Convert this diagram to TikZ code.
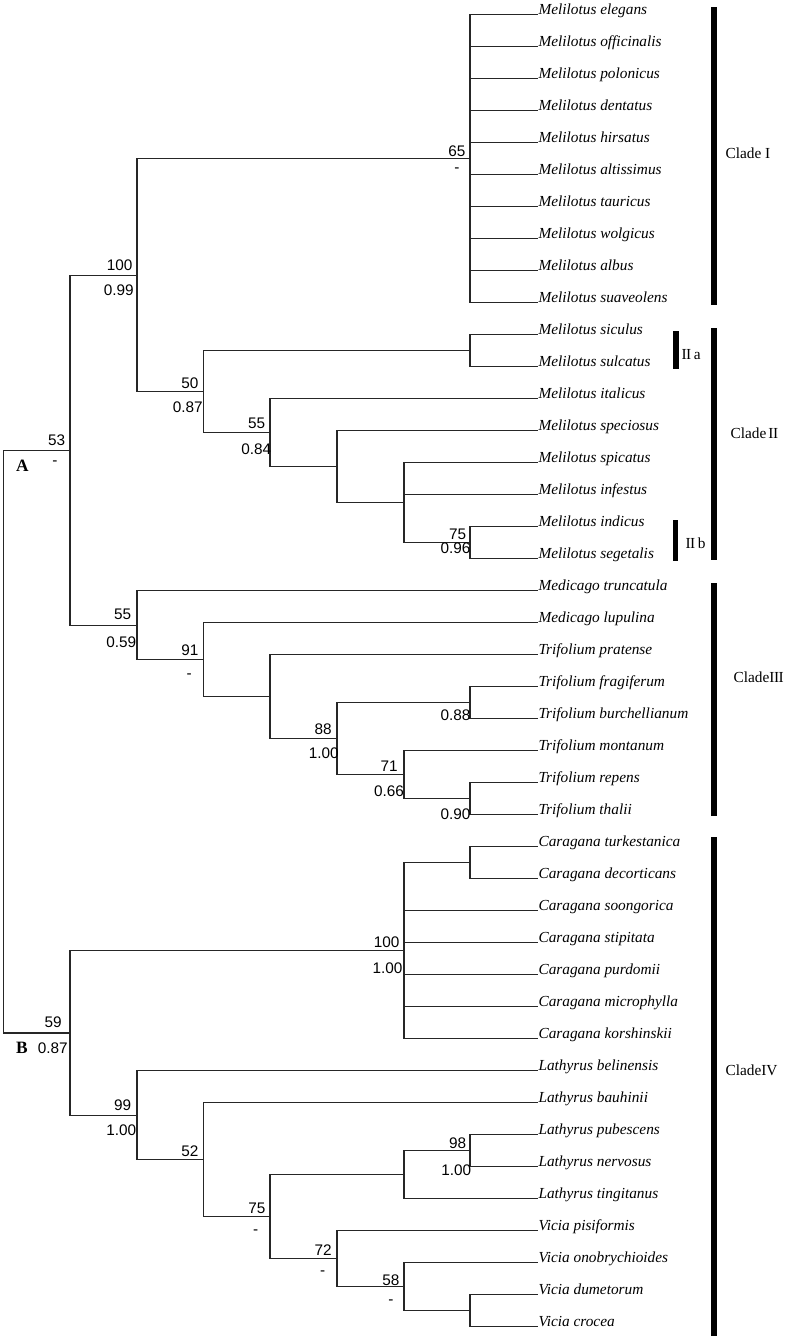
\documentclass[tikz,border=0pt]{standalone}
\usepackage{fontspec}
\setmainfont{Liberation Serif}
\newfontfamily\arialfont{Liberation Sans}
\begin{document}
\begin{tikzpicture}[x=0.75pt, y=-0.75pt, line width=0.8pt, draw=black!85,
    leaf/.style={anchor=base west, inner sep=0pt, font=\fontsize{11.5}{13}\selectfont\itshape},
    boot/.style={anchor=east, inner sep=0pt, font=\arialfont\fontsize{11.5}{13}\selectfont},
    nil/.style={anchor=base, inner sep=0pt, font=\arialfont\fontsize{11.5}{13}\selectfont},
    clade/.style={anchor=west, inner sep=0pt, font=\fontsize{11.5}{13}\selectfont},
    grp/.style={inner sep=0pt, font=\bfseries\fontsize{13}{15}\selectfont}]
    \useasboundingbox (0,0) rectangle (787,1339);

    % Leaves
    \foreach \sp [count=\i from 0] in {Melilotus elegans, Melilotus officinalis,
        Melilotus polonicus, Melilotus dentatus, Melilotus hirsatus,
        Melilotus altissimus, Melilotus tauricus, Melilotus wolgicus,
        Melilotus albus, Melilotus suaveolens, Melilotus siculus,
        Melilotus sulcatus, Melilotus italicus, Melilotus speciosus,
        Melilotus spicatus, Melilotus infestus, Melilotus indicus,
        Melilotus segetalis, Medicago truncatula, Medicago lupulina,
        Trifolium pratense, Trifolium fragiferum, Trifolium burchellianum,
        Trifolium montanum, Trifolium repens, Trifolium thalii,
        Caragana turkestanica, Caragana decorticans, Caragana soongorica,
        Caragana stipitata, Caragana purdomii, Caragana microphylla,
        Caragana korshinskii, Lathyrus belinensis, Lathyrus bauhinii,
        Lathyrus pubescens, Lathyrus nervosus, Lathyrus tingitanus,
        Vicia pisiformis, Vicia onobrychioides, Vicia dumetorum, Vicia crocea}
        \node[leaf] (l\i) at (538, 14.7+32*\i) {\sp};

    % Clade I
    \coordinate (cI) at (470,158.7);
    \foreach \k in {0,...,9} \draw (cI) |- (l\k.base west);
    \node[boot] (b65) at (466,151) {65};
    \node[nil] (p65) at (457,172) {-};

    % Clade II
    \coordinate (IIa) at (470,350.7);
    \coordinate (IIb) at (470,542.7);
    \coordinate (n404a) at (404,502.7);
    \coordinate (n337a) at (337,466.7);
    \coordinate (n270a) at (270,432.7);
    \coordinate (n203a) at (203.5,391.7);
    \draw (IIa) |- (l10.base west);
    \draw (IIa) |- (l11.base west);
    \draw (IIb) |- (l16.base west);
    \draw (IIb) |- (l17.base west);
    \draw (n404a) |- (l14.base west);
    \draw (n404a) |- (l15.base west);
    \draw (n404a) |- (IIb);
    \draw (n337a) |- (l13.base west);
    \draw (n337a) |- (n404a);
    \draw (n270a) |- (l12.base west);
    \draw (n270a) |- (n337a);
    \draw (n203a) |- (IIa);
    \draw (n203a) |- (n270a);
    \node[boot] (b75) at (466.7,534) {75};
    \node[boot] (p75) at (471,548.3) {0.96};
    \node[boot] (b55a) at (265.7,423.3) {55};
    \node[boot] (p55a) at (271.7,449.3) {0.84};
    \node[boot] (b50) at (199,383.3) {50};
    \node[boot] (p50) at (203.3,407.7) {0.87};

    % Clade I + II
    \coordinate (n137a) at (137,275.2);
    \draw (n137a) |- (cI);
    \draw (n137a) |- (n203a);
    \node[boot] (b100a) at (133,265) {100};
    \node[boot] (p100a) at (134.3,290) {0.99};

    % Clade III
    \coordinate (tf) at (470,702.7);
    \coordinate (tr) at (470,798.7);
    \coordinate (n404b) at (404,774.7);
    \coordinate (n337b) at (337,738.7);
    \coordinate (n270b) at (270,696.7);
    \coordinate (n203b) at (203.5,659.7);
    \coordinate (n137b) at (137,625.2);
    \draw (tf) |- (l21.base west);
    \draw (tf) |- (l22.base west);
    \draw (tr) |- (l24.base west);
    \draw (tr) |- (l25.base west);
    \draw (n404b) |- (l23.base west);
    \draw (n404b) |- (tr);
    \draw (n337b) |- (tf);
    \draw (n337b) |- (n404b);
    \draw (n270b) |- (l20.base west);
    \draw (n270b) |- (n337b);
    \draw (n203b) |- (l19.base west);
    \draw (n203b) |- (n270b);
    \draw (n137b) |- (l18.base west);
    \draw (n137b) |- (n203b);
    \node[boot] (ptf) at (471,715) {0.88};
    \node[boot] (ptr) at (471,814) {0.90};
    \node[boot] (b71) at (398.3,766) {71};
    \node[boot] (p71) at (404.5,791) {0.66};
    \node[boot] (b88) at (332.3,729) {88};
    \node[boot] (p88) at (339.3,753.3) {1.00};
    \node[boot] (b91) at (199,650) {91};
    \node[nil] (p91) at (189.3,678) {-};
    \node[boot] (b55b) at (131.7,614) {55};
    \node[boot] (p55b) at (136.7,642.3) {0.59};

    % A
    \coordinate (nA) at (70,450.2);
    \draw (nA) |- (n137a);
    \draw (nA) |- (n137b);
    \node[boot] (b53) at (65.7,440) {53};
    \node[nil] (p53) at (55,465.7) {-};
    \node[grp] (gA) at (22.5,465.7) {A};

    % Clade IV, Caragana
    \coordinate (ct) at (470,862.7);
    \coordinate (car) at (404,950.7);
    \draw (ct) |- (l26.base west);
    \draw (ct) |- (l27.base west);
    \draw (car) |- (ct);
    \foreach \k in {28,...,32} \draw (car) |- (l\k.base west);
    \node[boot] (b100b) at (400,942.7) {100};
    \node[boot] (p100b) at (403,968.3) {1.00};

    % Clade IV, Lathyrus and Vicia
    \coordinate (lp) at (470,1150.7);
    \coordinate (lat) at (404,1174.7);
    \coordinate (vd) at (470,1310.7);
    \coordinate (v58) at (404,1286.7);
    \coordinate (v72) at (337,1258.7);
    \coordinate (n75) at (270,1216.7);
    \coordinate (n52) at (203.5,1159.7);
    \coordinate (n99) at (137,1115.2);
    \draw (lp) |- (l35.base west);
    \draw (lp) |- (l36.base west);
    \draw (lat) |- (lp);
    \draw (lat) |- (l37.base west);
    \draw (vd) |- (l40.base west);
    \draw (vd) |- (l41.base west);
    \draw (v58) |- (l39.base west);
    \draw (v58) |- (vd);
    \draw (v72) |- (l38.base west);
    \draw (v72) |- (v58);
    \draw (n75) |- (lat);
    \draw (n75) |- (v72);
    \draw (n52) |- (l34.base west);
    \draw (n52) |- (n75);
    \draw (n99) |- (l33.base west);
    \draw (n99) |- (n52);
    \node[boot] (b98) at (466.7,1143.3) {98};
    \node[boot] (p98) at (471.7,1170) {1.00};
    \node[boot] (b58) at (400,1280) {58};
    \node[nil] (p58) at (391,1304) {-};
    \node[boot] (b72) at (332.3,1250) {72};
    \node[nil] (p72) at (322.7,1275.7) {-};
    \node[boot] (b75b) at (266,1208.3) {75};
    \node[nil] (p75b) at (255.7,1234) {-};
    \node[boot] (b52) at (199,1151.7) {52};
    \node[boot] (b99) at (131.7,1105) {99};
    \node[boot] (p99) at (136.7,1130.7) {1.00};

    % B
    \coordinate (nB) at (70,1033);
    \draw (nB) |- (car);
    \draw (nB) |- (n99);
    \node[boot] (b59) at (62.3,1022.7) {59};
    \node[boot] (p59) at (68.3,1048.3) {0.87};
    \node[grp] (gB) at (22,1047.7) {B};

    % Root
    \coordinate (root) at (3.3,741.6);
    \draw (root) |- (nA);
    \draw (root) |- (nB);

    % Clade bars
    \fill (710.7,6.7) rectangle (716.7,305);
    \fill (710.7,327.7) rectangle (716.7,560);
    \fill (710.7,583.3) rectangle (716.7,816);
    \fill (711.2,837.3) rectangle (717.2,1335.7);
    \fill (673.3,330.7) rectangle (679.3,369.3);
    \fill (672.7,520) rectangle (678.3,561);
    \node[clade] (cl1) at (725,153) {Clade I};
    \node[clade] (cl2) at (730,433) {Clade\kern1.5pt I\kern-0.3pt I};
    \node[clade] (cl3) at (733,677) {CladeI\kern-0.3pt I\kern-0.3pt I};
    \node[clade] (cl4) at (725,1070) {CladeIV};
    \node[clade] (c2a) at (681,355) {I\kern-0.3pt I\,a};
    \node[clade] (c2b) at (685,543.3) {I\kern-0.3pt I\,b};
\end{tikzpicture}
\end{document}
